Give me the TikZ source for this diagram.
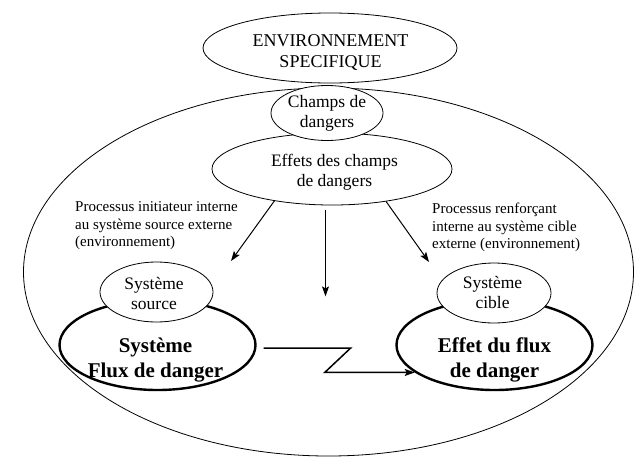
\documentclass[tikz,border=0pt]{standalone}
\usepackage{fontspec}
\setmainfont{Liberation Serif}
\usetikzlibrary{shapes.geometric,arrows.meta}

\begin{document}
\begin{tikzpicture}[x=1pt,y=-1pt,
  outline/.style={ellipse,draw,line width=0.8pt,inner sep=0pt},
  bubble/.style={outline,fill=white},
  core/.style={ellipse,draw,line width=2.4pt,inner sep=0pt,minimum width=196pt,minimum height=90pt},
  txt/.style={inner sep=0pt,align=center,font=\fontsize{17.5}{19.5}\selectfont},
  bigtxt/.style={inner sep=0pt,align=center,font=\fontsize{21}{25}\selectfont\bfseries},
  note/.style={inner sep=0pt,align=left,anchor=west,font=\fontsize{15}{17.5}\selectfont},
  flow/.style={line width=1pt,-{Stealth[length=10pt,width=7pt,inset=2pt]}},
  jump/.style={line width=1.5pt,-{Stealth[length=10pt,width=7pt,inset=2pt]}}
]
\useasboundingbox (0,0) rectangle (634,458);

% surrounding environment
\node[outline,minimum width=610pt,minimum height=368pt] (monde) at (328.5,272) {};

% top of the hierarchy
\node[outline,minimum width=254pt,minimum height=70pt] (env) at (330,48) {};
\node[bubble,minimum width=240pt,minimum height=72pt] (effets) at (332,169) {};
\node[bubble,minimum width=112pt,minimum height=55pt] (champs) at (327,113) {};

% source and target systems
\node[core] (flux) at (157.5,345) {};
\node[core] (effet) at (494.5,345) {};
\node[bubble,minimum width=113pt,minimum height=60pt] (source) at (156.5,292) {};
\node[bubble,minimum width=114pt,minimum height=60pt] (cible) at (494,293) {};

% texts
\node[txt,font=\fontsize{18}{21}\selectfont] (t-env) at (330.5,52.2) {ENVIRONNEMENT\\SPECIFIQUE};
\node[txt] (t-champs) at (327,113.4) {Champs de\\dangers};
\node[txt] (t-effets) at (334.5,172) {Effets des champs\\de dangers};
\node[txt] (t-source) at (154,293.5) {Système\\source};
\node[txt] (t-cible) at (492.5,292.5) {Système\\cible};
\node[bigtxt] (t-flux) at (155.5,359.6) {Système\\Flux de danger};
\node[bigtxt] (t-effet) at (494.5,359.6) {Effet du flux\\de danger};
\node[note] (n-init) at (75,225.8) {Processus initiateur interne\\au système source externe\\(environnement)};
\node[note] (n-renf) at (432,227.7) {Processus renforçant\\interne au système cible\\externe (environnement)};

% arrow ends
\coordinate (endL) at (231,261);
\coordinate (endR) at (429,262);

% processes from the effects of the danger fields
\draw[flow] (effets.209.2) -- (endL);
\draw[flow] ([xshift=-6.5pt,yshift=-5pt]effets.south) -- ++(0,86);
\draw[flow] (effets.329.8) -- (endR);

% danger flow from source to target
\draw[jump] ([xshift=7pt,yshift=-3pt]flux.east) -- ++(87,0) coordinate (zA)
  -- ([xshift=-26pt]zA |- effet.199) -- (effet.199);
\end{tikzpicture}
\end{document}
